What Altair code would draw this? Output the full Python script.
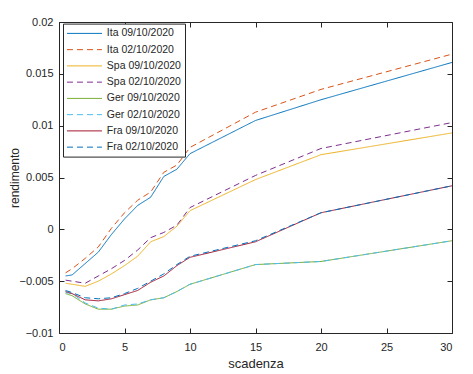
import altair as alt
import pandas as pd

# maturities (years)
maturities = [0.5, 1, 2, 3, 4, 5, 6, 7, 8, 9, 10, 15, 20, 30]

ita_0910 = [-0.0045, -0.0044, -0.0033, -0.0022, -0.0005, 0.0010, 0.0023, 0.0031, 0.0051, 0.0058, 0.0073, 0.0105, 0.0125, 0.0161]
ita_0210 = [-0.0042, -0.0038, -0.0028, -0.0017, 0.0001, 0.0016, 0.0028, 0.0036, 0.0055, 0.0062, 0.0079, 0.0113, 0.0135, 0.0169]
spa_0910 = [-0.0052, -0.0053, -0.0055, -0.0050, -0.0043, -0.0035, -0.0026, -0.0012, -0.0007, 0.0003, 0.0018, 0.0048, 0.0072, 0.0093]
spa_0210 = [-0.0049, -0.0050, -0.0052, -0.0045, -0.0038, -0.0030, -0.0020, -0.0008, -0.0003, 0.0004, 0.0021, 0.0052, 0.0078, 0.0103]
ger_0910 = [-0.0062, -0.0064, -0.0072, -0.0077, -0.0077, -0.0074, -0.0073, -0.0068, -0.0066, -0.0060, -0.0053, -0.0034, -0.0031, -0.0011]
ger_0210 = [-0.0061, -0.0062, -0.0071, -0.0076, -0.0077, -0.0073, -0.0072, -0.0068, -0.0066, -0.0060, -0.0053, -0.0034, -0.0031, -0.0011]
fra_0910 = [-0.0060, -0.0062, -0.0068, -0.0069, -0.0067, -0.0063, -0.0059, -0.0051, -0.0045, -0.0035, -0.0027, -0.0012, 0.0016, 0.0042]
fra_0210 = [-0.0059, -0.0061, -0.0066, -0.0067, -0.0066, -0.0062, -0.0057, -0.0050, -0.0043, -0.0034, -0.0026, -0.0011, 0.0016, 0.0042]

series_names = ["Ita 09/10/2020", "Ita 02/10/2020", "Spa 09/10/2020", "Spa 02/10/2020",
                "Ger 09/10/2020", "Ger 02/10/2020", "Fra 09/10/2020", "Fra 02/10/2020"]
series_values = [ita_0910, ita_0210, spa_0910, spa_0210, ger_0910, ger_0210, fra_0910, fra_0210]
colors = ["#0072BD", "#D95319", "#EDB120", "#7E2F8E", "#77AC30", "#4DBEEE", "#A2142F", "#0072BD"]
dashes = [[1, 0], [6, 4], [1, 0], [6, 4], [1, 0], [6, 4], [1, 0], [6, 4]]

x_ticks = [0, 5, 10, 15, 20, 25, 30]
y_ticks = [-0.01, -0.005, 0, 0.005, 0.01, 0.015, 0.02]

rows = []
for i, (name, vals) in enumerate(zip(series_names, series_values)):
    for m, v in zip(maturities, vals):
        rows.append({"series": name, "order": i, "scadenza": m, "rendimento": v})
df = pd.DataFrame(rows)

FONT = "Liberation Sans"
AX = "#262626"

x_scale = alt.Scale(domain=[0, 30], nice=False, zero=False)
y_scale = alt.Scale(domain=[-0.01, 0.02], nice=False, zero=False)

lines = alt.Chart(df).mark_line(strokeWidth=1, clip=True).encode(
    x=alt.X("scadenza:Q", scale=x_scale,
            axis=alt.Axis(orient="bottom", values=x_ticks, offset=-5, tickSize=5, domain=False,
                          grid=False, labelPadding=8, titlePadding=5, title="scadenza",
                          labelFontSize=11, titleFontSize=13, titleFontWeight="normal",
                          labelFont=FONT, titleFont=FONT, labelColor=AX, titleColor=AX,
                          tickColor=AX)),
    y=alt.Y("rendimento:Q", scale=y_scale,
            axis=alt.Axis(orient="left", values=y_ticks, offset=-5, tickSize=5, domain=False,
                          grid=False, labelPadding=6, titlePadding=-2.5, title="rendimento",
                          labelExpr="replace(toString(datum.value), '-', '\u2212')",
                          labelFontSize=11, titleFontSize=12, titleFontWeight="normal",
                          labelFont=FONT, titleFont=FONT, labelColor=AX, titleColor=AX,
                          tickColor=AX)),
    color=alt.Color("series:N", title=None,
                    scale=alt.Scale(domain=series_names, range=colors),
                    legend=alt.Legend(orient="none", legendX=4, legendY=1.6,
                                      symbolType="M-1,0H5", symbolSize=136, symbolStrokeWidth=1,
                                      labelFontSize=10.5, labelFont=FONT, labelColor=AX,
                                      labelOffset=27.5, rowPadding=4.25, padding=3.3,
                                      strokeColor=AX, fillColor="white", cornerRadius=0)),
    strokeDash=alt.StrokeDash("series:N", title=None,
                              scale=alt.Scale(domain=series_names, range=dashes)),
    order=alt.Order("order:Q"),
)

frame = alt.Chart(df).mark_point(opacity=0).encode(
    x=alt.X("scadenza:Q", scale=x_scale,
            axis=alt.Axis(orient="top", values=x_ticks, offset=-5, tickSize=5, domain=False,
                          grid=False, labels=False, title=None, tickColor=AX)),
    y=alt.Y("rendimento:Q", scale=y_scale,
            axis=alt.Axis(orient="right", values=y_ticks, offset=-5, tickSize=5, domain=False,
                          grid=False, labels=False, title=None, tickColor=AX)),
)

chart = alt.layer(lines, frame).resolve_axis(x="independent", y="independent").properties(
    width=393, height=311,
    autosize=alt.AutoSizeParams(type="none"),
    padding={"left": 51, "top": 14, "right": 13, "bottom": 40},
    background="white",
).configure_view(stroke=AX, strokeWidth=1)

chart.save("out.html", embed_options={"renderer": "svg", "actions": False})
